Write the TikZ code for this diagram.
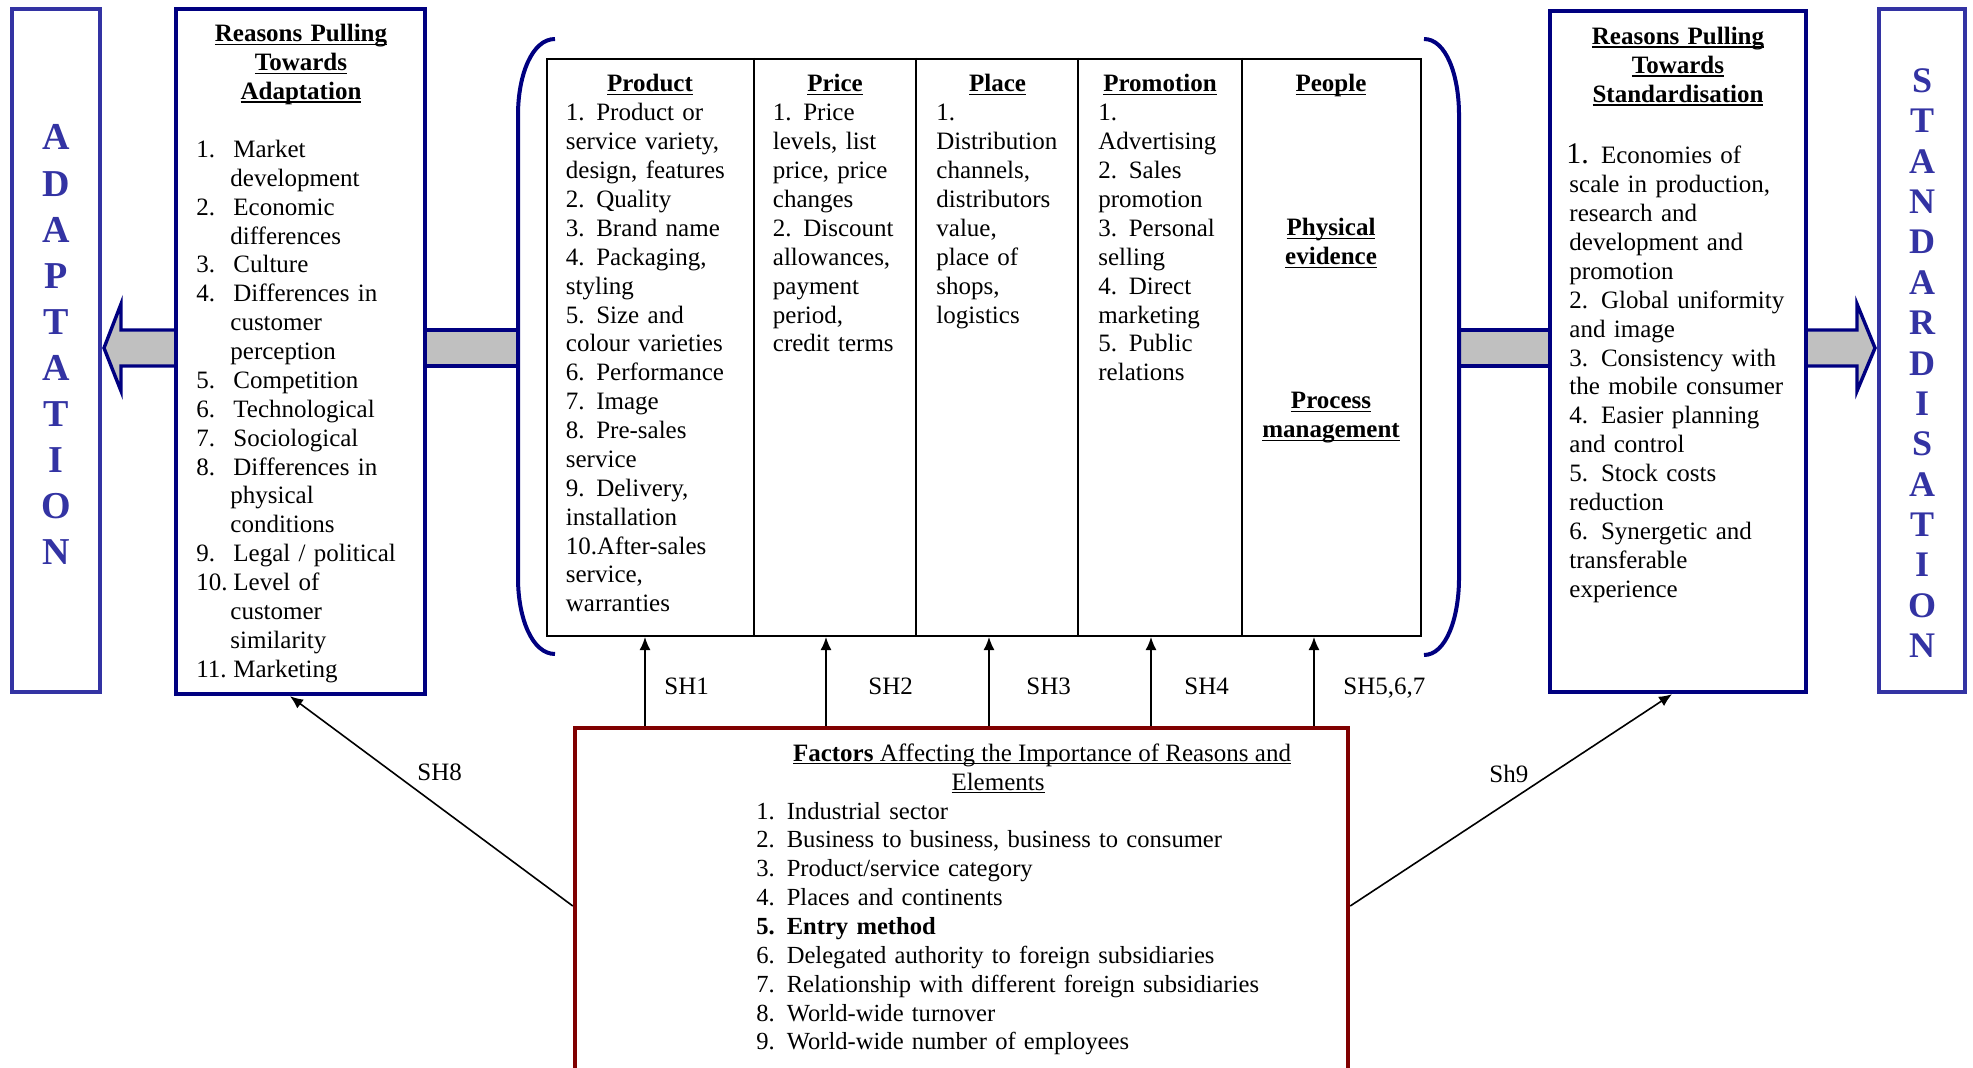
\documentclass[tikz,border=0pt]{standalone}
\usepackage{fontspec}
\setmainfont{Liberation Serif}
\usetikzlibrary{arrows.meta,fit}
\definecolor{navy}{RGB}{0,0,128}
\definecolor{adblue}{RGB}{51,51,163}
\definecolor{dred}{RGB}{128,0,0}
\definecolor{shaftgray}{RGB}{192,192,192}
\newsavebox\ulbox
\newcommand\myul[1]{\leavevmode\sbox\ulbox{#1}\rlap{\rule[-1.7pt]{\wd\ulbox}{0.85pt}}\usebox\ulbox}
\newcommand\nb[1]{\makebox[18.5pt][l]{#1}}
\newcommand\nm[1]{\makebox[15.2pt][l]{#1}}
\newcommand\nr[1]{\makebox[15.8pt][l]{#1}}
\newcommand\ind{\hspace*{17pt}}
\newcommand\bodyfont{\fontsize{12.5pt}{14.435pt}\selectfont}
\begin{document}
\begin{tikzpicture}[x=0.5pt,y=-0.5pt,
  body/.style={font=\bodyfont, inner sep=0pt, anchor=base west, align=left, text width=#1},
  body/.default=120pt,
  head/.style={font=\bodyfont\bfseries, inner sep=0pt, anchor=base, align=center, text width=#1},
  head/.default=120pt,
  lbl/.style={font=\bodyfont, inner sep=0pt, anchor=base west},
  frame/.style={draw=#1, line width=2.2pt, inner sep=0pt},
  conn/.style={draw=black, line width=0.8pt, -{Latex[length=6.5pt,width=5.5pt]}},
  shaft/.style={fill=shaftgray, draw=navy, line width=1.7pt, line join=miter},
  bracket/.style={draw=navy, line width=2pt},
  vletters/.style={inner sep=0pt, anchor=base, align=center, text width=30pt, text=adblue}
]
\useasboundingbox (0,0) rectangle (1973,1068);
\clip (0,0) rectangle (1973,1068);

% big grey arrows and shafts
\draw[shaft] (176,330) -- (121,330) -- (121,304) -- (104,348) -- (121,391) -- (121,366) -- (176,366) -- cycle;
\draw[shaft] (425,330) rectangle (518,366);
\draw[shaft] (1459,330) rectangle (1550,366);
\draw[shaft] (1806,330) -- (1857,330) -- (1857,304) -- (1875,348) -- (1857,391) -- (1857,366) -- (1806,366) -- cycle;

% boxes
\node[frame=adblue, line width=2pt, fit={(12,9)(100,692)}] (adbox) {};
\node[frame=navy, fill=white, fit={(176,9)(425,694)}] (lbox) {};
\node[frame=navy, fill=white, fit={(1550,11)(1806,692)}] (rbox) {};
\node[frame=adblue, line width=2pt, fit={(1879,9)(1965,692)}] (stbox) {};
\node[draw=black, line width=1pt, inner sep=0pt, fit={(547,59)(1421,636)}] (mix) {};
\node[frame=dred, fit={(575,728)(1348,1090)}] (fac) {};

% column dividers
\foreach \cx/\cn in {754/d1,916/d2,1078/d3,1242/d4}{
  \coordinate (\cn) at (\cx,0);
  \draw[line width=1pt] (mix.north -| \cn) -- (mix.south -| \cn);
}

% brackets
\draw[bracket] (555,39) .. controls (532,39) and (518,75) .. (518,115) -- (518,578) .. controls (518,618) and (532,654) .. (555,654);
\draw[bracket] (1424,39) .. controls (1446,39) and (1459,75) .. (1459,115) -- (1459,578) .. controls (1459,618) and (1446,655) .. (1424,655);

% vertical letters
\node[vletters, font=\fontsize{19pt}{23.05pt}\selectfont\bfseries] (adtxt) at (56,150) {A\\D\\A\\P\\T\\A\\T\\I\\O\\N};
\node[vletters, font=\fontsize{18pt}{20.18pt}\selectfont\bfseries] (sttxt) at (1922,92.5) {S\\T\\A\\N\\D\\A\\R\\D\\I\\S\\A\\T\\I\\O\\N};

% left reasons box
\node[head=120pt] (lhead) at (301,42) {\myul{Reasons Pulling}\\\myul{Towards}\\\myul{Adaptation}};
\node[body=115pt] (litems) at (196,157.5) {\nb{1.}Market\\ \ind development\\ \nb{2.}Economic\\ \ind differences\\ \nb{3.}Culture\\ \nb{4.}Differences in\\ \ind customer\\ \ind perception\\ \nb{5.}Competition\\ \nb{6.}Technological\\ \nb{7.}Sociological\\ \nb{8.}Differences in\\ \ind physical\\ \ind conditions\\ \nb{9.}Legal / political\\ \nb{10.}Level of\\ \ind customer\\ \ind similarity\\ \nb{11.}Marketing};

% right reasons box
\node[head=125pt] (rhead) at (1678,44.5) {\myul{Reasons Pulling}\\\myul{Towards}\\\myul{Standardisation}};
\node[body=118pt] (ritems) at (1569,164) {\hspace*{-1.5pt}\makebox[17.3pt][l]{\fontsize{15pt}{14.435pt}\selectfont 1.}Economies of\\scale in production,\\research and\\development and\\promotion\\\nr{2.}Global uniformity\\and image\\\nr{3.}Consistency with\\the mobile consumer\\\nr{4.}Easier planning\\and control\\\nr{5.}Stock costs\\reduction\\\nr{6.}Synergetic and\\transferable\\experience};

% marketing mix columns
\node[head=90pt] (hprod) at (650,92) {\myul{Product}};
\node[body=92pt] (tprod) at (565.5,121) {\nm{1.}Product or\\service variety,\\design, features\\\nm{2.}Quality\\\nm{3.}Brand name\\\nm{4.}Packaging,\\styling\\\nm{5.}Size and\\colour varieties\\\nm{6.}Performance\\\nm{7.}Image\\\nm{8.}Pre-sales\\service\\\nm{9.}Delivery,\\installation\\10.After-sales\\service,\\warranties};
\node[head=70pt] (hprice) at (835,92) {\myul{Price}};
\node[body=70pt] (tprice) at (772.5,121) {\nm{1.}Price\\levels, list\\price, price\\changes\\\nm{2.}Discount\\allowances,\\payment\\period,\\credit terms};
\node[head=70pt] (hplace) at (997.5,92) {\myul{Place}};
\node[body=70pt] (tplace) at (936,121) {1.\\Distribution\\channels,\\distributors\\value,\\place of\\shops,\\logistics};
\node[head=70pt] (hpromo) at (1160,92) {\myul{Promotion}};
\node[body=70pt] (tpromo) at (1098,121) {1.\\Advertising\\\nm{2.}Sales\\promotion\\\nm{3.}Personal\\selling\\\nm{4.}Direct\\marketing\\\nm{5.}Public\\relations};
\node[head=80pt] (hpeople) at (1331,92) {\myul{People}};
\node[head=80pt] (hphys) at (1331,236) {\myul{Physical}\\\myul{evidence}};
\node[head=80pt] (hproc) at (1331,409) {\myul{Process}\\\myul{management}};

% factors box text
\node[lbl, anchor=base] (fh1) at (1042,761) {\myul{\textbf{Factors} Affecting the Importance of Reasons and}};
\node[lbl, anchor=base] (fh2) at (998,790) {\myul{Elements}};
\node[body=260pt, font=\fontsize{12.3pt}{14.435pt}\selectfont] (fitems) at (756,819) {\nm{1.}Industrial sector\\\nm{2.}Business to business, business to consumer\\\nm{3.}Product/service category\\\nm{4.}Places and continents\\\textbf{\nm{5.}Entry method}\\\nm{6.}Delegated authority to foreign subsidiaries\\\nm{7.}Relationship with different foreign subsidiaries\\\nm{8.}World-wide turnover\\\nm{9.}World-wide number of employees};

% connectors
\foreach \ax/\an in {645/a1,826/a2,989/a3,1151/a4,1314/a5}{
  \coordinate (\an) at (\ax,0);
  \draw[conn] (fac.north -| \an) -- (mix.south -| \an);
}
\coordinate (s8) at (0,906);
\coordinate (t8) at (290,0);
\coordinate (t9) at (1672,0);
\draw[conn] (fac.west |- s8) -- (lbox.south -| t8);
\draw[conn] (fac.east |- s8) -- (rbox.south -| t9);

% connector labels
\node[lbl] (l1) at (664,694) {SH1};
\node[lbl] (l2) at (868,694) {SH2};
\node[lbl] (l3) at (1026,694) {SH3};
\node[lbl] (l4) at (1184,694) {SH4};
\node[lbl] (l5) at (1343,694) {SH5,6,7};
\node[lbl] (l8) at (417,780) {SH8};
\node[lbl] (l9) at (1489,782) {Sh9};
\end{tikzpicture}
\end{document}
